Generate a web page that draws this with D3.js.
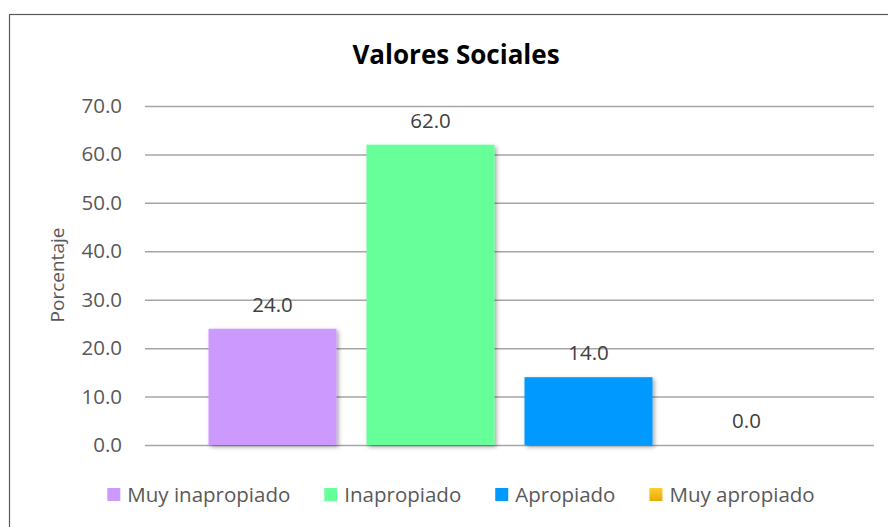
<!DOCTYPE html>
<html>
<head>
<meta charset="utf-8">
<script src="https://cdn.jsdelivr.net/npm/d3@7"></script>
<style>
  body { margin: 0; background: #fff; }
  svg text { font-family: "Open Sans", "Liberation Sans", Arial, sans-serif; }
</style>
</head>
<body>
<svg id="chart" width="888" height="527"></svg>
<script>
// datos del gráfico
let category = ["Valores Sociales"];
let series = ["Muy inapropiado", "Inapropiado", "Apropiado", "Muy apropiado"];
let values = [24.0, 62.0, 14.0, 0.0];
let colors = ["#CC99FF", "#66FF99", "#0099FF", "#FFC000"];
let yTicks = [0, 10, 20, 30, 40, 50, 60, 70];

let svg = d3.select("#chart");

// marco del gráfico
svg.append("rect")
    .attr("x", 9.5).attr("y", 14.5)
    .attr("width", 900).attr("height", 540)
    .attr("fill", "#fff")
    .attr("stroke", "#595959")
    .attr("stroke-width", 1.2);

let defs = svg.append("defs");
let shadow = defs.append("filter").attr("id", "sombra")
    .attr("x", "-10%").attr("y", "-10%").attr("width", "130%").attr("height", "130%");
shadow.append("feDropShadow")
    .attr("dx", 2).attr("dy", 2).attr("stdDeviation", 2)
    .attr("flood-color", "#000").attr("flood-opacity", 0.35);
let grad = defs.append("linearGradient").attr("id", "oro")
    .attr("x1", 0).attr("y1", 0).attr("x2", 0).attr("y2", 1);
grad.append("stop").attr("offset", "0%").attr("stop-color", "#FFCC33");
grad.append("stop").attr("offset", "100%").attr("stop-color", "#E6AC00");

let plot = { left: 145, right: 874, top: 106, bottom: 445 };

let y = d3.scaleLinear().domain([0, 70]).range([plot.bottom, plot.top]);
let x0 = d3.scaleBand().domain(category).range([plot.left, plot.right]);
let x1 = d3.scaleBand().domain(series)
    .range([0, x0.bandwidth()])
    .paddingInner(0.19)
    .paddingOuter(0.402);

// título
svg.append("text")
    .text(category[0])
    .attr("x", 456).attr("y", 64)
    .attr("text-anchor", "middle")
    .attr("font-size", "26px")
    .attr("font-weight", "bold")
    .attr("fill", "#000");

// líneas de cuadrícula y eje Y
let yAxis = d3.axisLeft(y).tickValues(yTicks).tickFormat(d3.format(".1f"))
    .tickSize(-(plot.right - plot.left)).tickPadding(23);
let gy = svg.append("g")
    .attr("transform", `translate(${plot.left},0)`)
    .call(yAxis);
gy.select(".domain").remove();
gy.selectAll(".tick line").attr("stroke", "#a6a6a6").attr("stroke-width", 1.5);
gy.selectAll(".tick text")
    .attr("font-size", "20.5px")
    .attr("font-family", null)
    .attr("fill", "#595959");

// título eje Y
svg.append("text")
    .text("Porcentaje")
    .attr("transform", "translate(64,275) rotate(-90)")
    .attr("text-anchor", "middle")
    .attr("font-size", "19px")
    .attr("fill", "#595959");

// barras
let bars = svg.append("g").attr("transform", `translate(${x0(category[0])},0)`);
bars.selectAll("rect")
    .data(values)
    .enter()
    .append("rect")
    .attr("x", (d, i) => x1(series[i]))
    .attr("y", d => y(d))
    .attr("width", x1.bandwidth())
    .attr("height", d => y(0) - y(d))
    .attr("fill", (d, i) => i == 3 ? "url(#oro)" : colors[i])
    .attr("filter", "url(#sombra)");

// etiquetas de datos
bars.selectAll(".etiqueta")
    .data(values)
    .enter()
    .append("text")
    .attr("class", "etiqueta")
    .text(d => d3.format(".1f")(d))
    .attr("x", (d, i) => x1(series[i]) + x1.bandwidth() / 2)
    .attr("y", d => y(d) - 17)
    .attr("text-anchor", "middle")
    .attr("font-size", "20.5px")
    .attr("fill", "#404040");

// leyenda
let legend = svg.append("g");
let lx = 0;
series.forEach((s, i) => {
    let item = legend.append("g").attr("transform", `translate(${lx},0)`);
    item.append("rect")
        .attr("x", 0).attr("y", -7)
        .attr("width", 13).attr("height", 13)
        .attr("fill", i == 3 ? "url(#oro)" : colors[i]);
    let t = item.append("text")
        .text(s)
        .attr("x", 20).attr("y", 7)
        .attr("font-size", "20.5px")
        .attr("fill", "#595959");
    lx += 20 + t.node().getComputedTextLength() + 34;
});
let legendWidth = lx - 34;
legend.attr("transform", `translate(${461 - legendWidth / 2},495)`);
</script>
</body>
</html>
